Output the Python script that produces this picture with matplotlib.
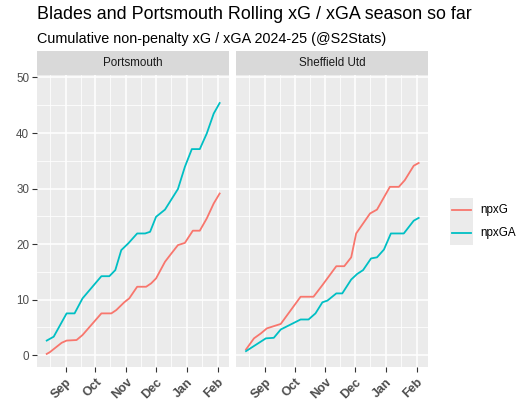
import matplotlib
matplotlib.use("Agg")
import matplotlib.pyplot as plt
import matplotlib.dates as mdates
from datetime import datetime, timedelta

plt.rcParams['font.family'] = ['Liberation Sans', 'DejaVu Sans']

# ---------------- data ----------------
teams = ["Portsmouth", "Sheffield Utd"]
series_names = ["npxG", "npxGA"]
colors = {"npxG": "#F8766D", "npxGA": "#00BFC4"}

pom_npxg_dates = ["2024-08-13", "2024-08-16", "2024-08-28", "2024-09-02", "2024-09-12",
                  "2024-09-18", "2024-10-07", "2024-10-17", "2024-10-22", "2024-10-30",
                  "2024-11-04", "2024-11-12", "2024-11-21", "2024-11-26", "2024-12-01",
                  "2024-12-10", "2024-12-16", "2024-12-23", "2024-12-30", "2025-01-07",
                  "2025-01-14", "2025-01-21", "2025-01-28", "2025-02-03"]
pom_npxg = [0.2, 0.5, 2.2, 2.6, 2.7, 3.6, 7.5, 7.5, 8.1, 9.5, 10.2, 12.3, 12.3, 12.9,
            13.8, 16.8, 18.2, 19.8, 20.2, 22.4, 22.4, 24.6, 27.3, 29.1]

pom_npxga_dates = ["2024-08-13", "2024-08-20", "2024-09-02", "2024-09-10", "2024-09-18",
                   "2024-10-07", "2024-10-15", "2024-10-21", "2024-10-27", "2024-11-03",
                   "2024-11-12", "2024-11-20", "2024-11-25", "2024-12-01", "2024-12-10",
                   "2024-12-23", "2024-12-30", "2025-01-06", "2025-01-14", "2025-01-21",
                   "2025-01-28", "2025-02-03"]
pom_npxga = [2.6, 3.3, 7.5, 7.5, 10.2, 14.2, 14.2, 15.3, 18.9, 20.1, 21.9, 21.9, 22.2,
             24.9, 26.2, 29.9, 33.9, 37.1, 37.1, 39.9, 43.5, 45.4]

shu_npxg_dates = ["2024-08-13", "2024-08-21", "2024-08-28", "2024-09-03", "2024-09-17",
                  "2024-10-07", "2024-10-20", "2024-10-29", "2024-11-12", "2024-11-20",
                  "2024-11-27", "2024-12-02", "2024-12-16", "2024-12-23", "2025-01-05",
                  "2025-01-14", "2025-01-20", "2025-01-29", "2025-02-03"]
shu_npxg = [1.0, 3.0, 3.9, 4.8, 5.6, 10.5, 10.5, 12.6, 16.0, 16.0, 17.6, 21.9, 25.5,
            26.2, 30.3, 30.3, 31.5, 34.1, 34.6]

shu_npxga_dates = ["2024-08-13", "2024-09-02", "2024-09-10", "2024-09-17", "2024-10-07",
                   "2024-10-15", "2024-10-22", "2024-10-29", "2024-11-03", "2024-11-12",
                   "2024-11-18", "2024-11-27", "2024-12-03", "2024-12-09", "2024-12-17",
                   "2024-12-23", "2024-12-30", "2025-01-06", "2025-01-19", "2025-01-29",
                   "2025-02-03"]
shu_npxga = [0.7, 3.0, 3.1, 4.6, 6.4, 6.4, 7.5, 9.5, 9.8, 11.1, 11.1, 13.6, 14.6, 15.3,
             17.4, 17.6, 19.0, 21.9, 21.9, 24.2, 24.7]

month_ticks = ["2024-09-01", "2024-10-01", "2024-11-01", "2024-12-01", "2025-01-01", "2025-02-01"]
month_labels = ["Sep", "Oct", "Nov", "Dec", "Jan", "Feb"]
minor_ticks = ["2024-08-16", "2024-09-16", "2024-10-16", "2024-11-16", "2024-12-16", "2025-01-16"]
y_ticks = [0, 10, 20, 30, 40, 50]
y_minor = [5, 15, 25, 35, 45]

title = "Blades and Portsmouth Rolling xG / xGA season so far"
subtitle = "Cumulative non-penalty xG / xGA 2024-25 (@S2Stats)"

data = {
    "Portsmouth": {"npxG": (pom_npxg_dates, pom_npxg), "npxGA": (pom_npxga_dates, pom_npxga)},
    "Sheffield Utd": {"npxG": (shu_npxg_dates, shu_npxg), "npxGA": (shu_npxga_dates, shu_npxga)},
}

def d(s):
    return datetime.strptime(s, "%Y-%m-%d")

# ---------------- figure ----------------
W, H = 522, 408
fig = plt.figure(figsize=(W / 100, H / 100), dpi=100)
fig.patch.set_facecolor("white")

def fx(px):
    return px / W

def fy(py):
    return 1 - py / H

panel_x = [(36.7, 229.0), (236.0, 428.0)]
top_px, bot_px, strip_top = 75.0, 367.0, 51.0

sep1 = d("2024-09-01")
xlim = (mdates.date2num(sep1 - timedelta(days=29.1)), mdates.date2num(sep1 + timedelta(days=164.4)))
ylim = (-2.16, 50.45)

for i, team in enumerate(teams):
    x0, x1 = panel_x[i]
    ax = fig.add_axes([fx(x0), fy(bot_px), fx(x1 - x0), fy(top_px) - fy(bot_px)])
    ax.set_facecolor("#EBEBEB")
    for s in ax.spines.values():
        s.set_visible(False)
    ax.set_xlim(xlim)
    ax.set_ylim(ylim)
    ax.set_xticks([mdates.date2num(d(t)) for t in month_ticks])
    ax.set_xticks([mdates.date2num(d(t)) for t in minor_ticks], minor=True)
    ax.set_yticks(y_ticks)
    ax.set_yticks(y_minor, minor=True)
    ax.grid(which="major", color="white", linewidth=1.1)
    ax.grid(which="minor", color="white", linewidth=0.55)
    ax.set_axisbelow(True)
    ax.tick_params(which="minor", length=0)
    ax.tick_params(which="major", length=3.5, width=0.8, color="#333333", pad=2)
    ax.set_xticklabels(month_labels, rotation=45, ha="right", rotation_mode="anchor",
                       fontsize=9, fontweight="bold", color="#4D4D4D")
    for lab in ax.get_xticklabels():
        lab.set_y(-0.005)
    if i == 0:
        ax.set_yticklabels([str(v) for v in y_ticks], fontsize=8.4, color="#4D4D4D")
    else:
        ax.tick_params(axis="y", labelleft=False, length=0)
    for sname in series_names:
        ds, vs = data[team][sname]
        ax.plot([d(t) for t in ds], vs, color=colors[sname], linewidth=1.3,
                solid_joinstyle="round")
    # strip
    sax = fig.add_axes([fx(x0), fy(top_px), fx(x1 - x0), fy(strip_top) - fy(top_px)])
    sax.set_facecolor("#D9D9D9")
    sax.set_xticks([]); sax.set_yticks([])
    for s in sax.spines.values():
        s.set_visible(False)
    sax.text(0.5, 0.5, team, ha="center", va="center", fontsize=8.4, color="#1A1A1A",
             transform=sax.transAxes)

fig.text(fx(37), fy(19), title, fontsize=12.85, color="black", va="baseline", ha="left")
fig.text(fx(37), fy(42.7), subtitle, fontsize=10.4, color="black", va="baseline", ha="left")

# legend
lax = fig.add_axes([fx(450), fy(245), fx(23), fy(198) - fy(245)])
lax.set_facecolor("#EBEBEB")
lax.set_xlim(0, 1); lax.set_ylim(0, 1)
lax.set_xticks([]); lax.set_yticks([])
for s in lax.spines.values():
    s.set_visible(False)
for k, sname in enumerate(series_names):
    yk = 0.75 - 0.5 * k
    lax.plot([0.1, 0.9], [yk, yk], color=colors[sname], linewidth=1.3)
    fig.text(fx(480), fy(210 + 22.7 * k), sname, fontsize=8.4, color="black",
             ha="left", va="center")

fig.savefig("out.png", dpi=100)
